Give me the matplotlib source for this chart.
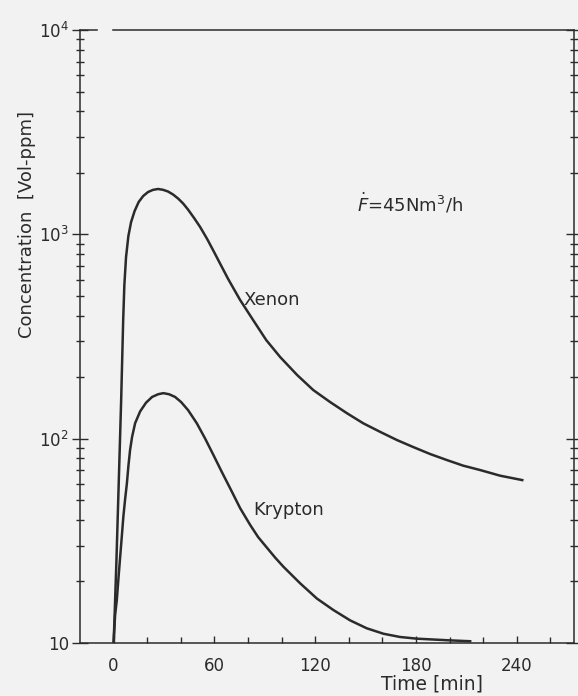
import numpy as np
import matplotlib
matplotlib.use("Agg")
import matplotlib.pyplot as plt
from matplotlib.ticker import LogLocator, FixedLocator, NullFormatter

# time in minutes, concentration in Vol-ppm
xenon_t = [0, 0.5, 1.1, 1.7, 2.4, 3.1, 3.8, 4.5, 5.1, 5.7, 6.4, 7.4, 8.8, 10.4, 12.5,
           14.9, 17.6, 20.5, 23.5, 26.5, 29.5, 32.4, 35.4, 38.4, 41.4, 44.3, 47.9,
           51.5, 55.7, 59.8, 64, 68.2, 75.3, 83, 90.8, 99.1, 109.2, 118.8, 128.9,
           139, 148.5, 158.6, 168.7, 178.3, 188.4, 198.5, 208, 218.2, 230, 243.2]
xenon_c = [10, 12.9, 18.2, 25.5, 40, 62.7, 98.4, 155, 243, 381, 565, 774, 982, 1148,
           1300, 1439, 1540, 1611, 1651, 1667, 1651, 1620, 1566, 1497, 1415, 1322,
           1202, 1086, 948, 819, 703, 604, 477, 381, 304, 251, 205, 173, 151,
           133, 119, 108, 98.4, 91, 84.1, 78.5, 73.8, 70.2, 65.9, 62.7]

krypton_t = [0, 0.9, 1.9, 2.9, 3.9, 4.9, 5.8, 6.8, 7.9, 8.8, 9.8, 11, 12.8, 15.8,
             19.3, 22.9, 26.5, 29.6, 33, 36.6, 40.2, 44.3, 49.5, 54.5, 59.4, 64.4,
             69.3, 75.3, 81.3, 86, 91.2, 96.1, 101.1, 111, 121, 130.8, 140.8, 150.7,
             160.6, 170.5, 180.5, 190.2, 200.3, 212.2]
krypton_c = [10, 13.7, 16.2, 20.8, 26.4, 33.4, 41.5, 50.1, 60.4, 73.4, 88, 102, 119, 136,
             150, 160, 165, 167, 165, 160, 151, 138, 119, 100, 83.2, 68.7,
             57.3, 45.7, 37.8, 33, 29.3, 26.2, 23.6, 19.6, 16.5, 14.5, 12.9, 11.8,
             11.1, 10.7, 10.5, 10.4, 10.3, 10.2]

x_major = [0, 60, 120, 180, 240]
y_major = [10, 100, 1000, 10000]
y_labels = ["10", r"$10^2$", r"$10^3$", r"$10^4$"]

bg = "#f2f2f2"
ink = "#2b2b2b"

fig = plt.figure(figsize=(5.78, 6.96), dpi=100, facecolor=bg)
ax = fig.add_axes([80 / 578, 1 - 643 / 696, 494 / 578, 613 / 696], facecolor=bg)

ax.plot(xenon_t, xenon_c, color=ink, lw=1.8, solid_joinstyle="round")
ax.plot(krypton_t, krypton_c, color=ink, lw=1.8, solid_joinstyle="round")

ax.set_yscale("log")
ax.set_xlim(-20, 274)
ax.set_ylim(10, 10000)

ax.set_xticks(x_major)
ax.xaxis.set_minor_locator(FixedLocator(np.arange(20, 274, 20)))
ax.set_yticks(y_major)
ax.set_yticklabels(y_labels)
ax.yaxis.set_minor_locator(LogLocator(base=10, subs=np.arange(2, 10)))
ax.yaxis.set_minor_formatter(NullFormatter())

ax.tick_params(axis="x", which="both", direction="in", top=False, colors=ink,
               labelsize=12, pad=10)
ax.tick_params(axis="x", which="major", length=5, width=1)
ax.tick_params(axis="x", which="minor", length=4, width=1)
ax.tick_params(axis="y", which="both", direction="inout", left=True, right=True,
               labelright=False, colors=ink, labelsize=12, pad=2)
ax.tick_params(axis="y", which="major", length=12, width=1)
ax.tick_params(axis="y", which="minor", length=6, width=1)

for s in ["left", "right", "bottom"]:
    ax.spines[s].set_color(ink)
    ax.spines[s].set_linewidth(1.1)
ax.spines["top"].set_visible(False)
# top border has a gap near the left corner in the original
ax.axhline(10000, 0, 0.034, color=ink, lw=1.1, clip_on=False)
ax.axhline(10000, 0.067, 1, color=ink, lw=1.1, clip_on=False)

ax.text(77.5, 477, "Xenon", fontsize=13, color=ink, ha="left", va="center")
ax.text(83, 45, "Krypton", fontsize=13, color=ink, ha="left", va="center")
ax.text(145, 1420, r"$\dot{F}$=45Nm$^3$/h", fontsize=13, color=ink,
        ha="left", va="center")

fig.text(432 / 578, 1 - 684 / 696, "Time [min]", fontsize=13.5, color=ink,
         ha="center", va="center")
fig.text(27 / 578, 1 - 224 / 696, "Concentration  [Vol-ppm]", fontsize=13,
         color=ink, ha="center", va="center", rotation=90)

fig.savefig("out.png", dpi=100, facecolor=bg)
